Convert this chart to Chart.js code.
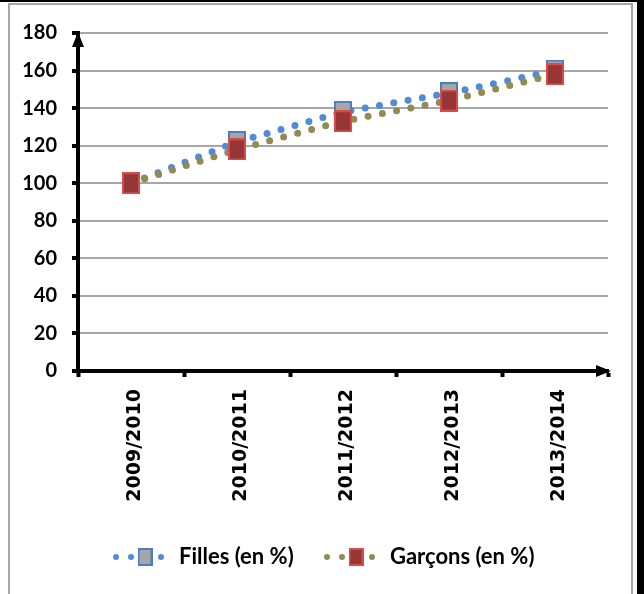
<!DOCTYPE html>
<html>
<head>
<meta charset="utf-8">
<script src="https://cdn.jsdelivr.net/npm/chart.js@4.4.0/dist/chart.umd.min.js"></script>
<style>
  html, body { margin: 0; padding: 0; background: #fff; }
  #wrap { width: 644px; height: 594px; }
</style>
</head>
<body>
<div id="wrap"><canvas id="evolutionChart" width="644" height="594"></canvas></div>
<script>
  // données
  const years = ['2009/2010', '2010/2011', '2011/2012', '2012/2013', '2013/2014'];
  const filles = [100, 122, 138, 148, 160];
  const garcons = [100, 118, 133, 144, 158];
  const yMin = 0, yMax = 180, yStep = 20;

  const BLUE = '#4f8bd8';
  const OLIVE = '#948a54';
  const NARROW = 'Lato, "Liberation Sans", sans-serif';

  // petit rectangle pour les marqueurs (plus haut que large, comme sur l'original)
  function makeMarker(fill, stroke, w, h) {
    const c = document.createElement('canvas');
    c.width = w; c.height = h;
    const g = c.getContext('2d');
    g.fillStyle = stroke;
    g.fillRect(0, 0, w, h);
    g.fillStyle = fill;
    g.fillRect(2, 2, w - 4, h - 4);
    return c;
  }

  const markerFilles = makeMarker('#a6a6a6', '#4a7fc4', 18, 22);
  const markerGarcons = makeMarker('#963636', '#d94b4b', 18, 22);

  const legendItems = [
    { text: 'Filles (en %)', color: BLUE, marker: makeMarker('#a6a6a6', '#4a7fc4', 15, 18), x: 116 },
    { text: 'Garçons (en %)', color: OLIVE, marker: makeMarker('#963636', '#d94b4b', 15, 18), x: 327 }
  ];

  function dot(ctx, x, y, color) {
    ctx.fillStyle = color;
    ctx.beginPath();
    ctx.arc(x, y, 3, 0, Math.PI * 2);
    ctx.fill();
  }

  const decorations = {
    id: 'decorations',
    beforeDraw(chart) {
      const ctx = chart.ctx;
      ctx.save();
      ctx.fillStyle = '#fff';
      ctx.fillRect(0, 0, chart.width, chart.height);
      ctx.restore();
    },
    afterDraw(chart) {
      const ctx = chart.ctx;
      const a = chart.chartArea;
      ctx.save();

      // cadre
      ctx.fillStyle = '#000';
      ctx.fillRect(0, 0, chart.width, 2);
      ctx.fillRect(637, 0, 7, chart.height);
      ctx.strokeStyle = '#a6a6a6';
      ctx.lineWidth = 2;
      ctx.beginPath();
      ctx.moveTo(9, chart.height + 2);
      ctx.lineTo(9, 4);
      ctx.lineTo(632, 4);
      ctx.lineTo(632, chart.height + 2);
      ctx.stroke();

      // flèches des axes
      ctx.fillStyle = '#000';
      ctx.beginPath();
      ctx.moveTo(a.left, a.top - 1);
      ctx.lineTo(a.left - 6, a.top + 14);
      ctx.lineTo(a.left + 6, a.top + 14);
      ctx.closePath();
      ctx.fill();
      ctx.beginPath();
      ctx.moveTo(a.right + 3, a.bottom);
      ctx.lineTo(a.right - 12, a.bottom - 6);
      ctx.lineTo(a.right - 12, a.bottom + 6);
      ctx.closePath();
      ctx.fill();

      // légende
      const ly = 557;
      ctx.font = 'bold 22px ' + NARROW;
      ctx.textBaseline = 'middle';
      ctx.textAlign = 'left';
      legendItems.forEach(item => {
        dot(ctx, item.x, ly, item.color);
        dot(ctx, item.x + 15, ly, item.color);
        dot(ctx, item.x + 45, ly, item.color);
        const m = item.marker;
        ctx.drawImage(m, item.x + 29 - m.width / 2, ly - m.height / 2);
        ctx.fillStyle = '#000';
        ctx.fillText(item.text, item.x + 63, ly);
      });

      ctx.restore();
    }
  };

  const ctx = document.getElementById('evolutionChart').getContext('2d');

  new Chart(ctx, {
    type: 'line',
    data: {
      labels: years,
      datasets: [
        {
          label: 'Filles (en %)',
          data: filles,
          borderColor: BLUE,
          borderWidth: 7,
          borderDash: [0, 14.5],
          borderCapStyle: 'round',
          tension: 0,
          pointStyle: markerFilles,
          pointHoverRadius: 0,
          order: 2
        },
        {
          label: 'Garçons (en %)',
          data: garcons,
          borderColor: OLIVE,
          borderWidth: 7,
          borderDash: [0, 14.5],
          borderCapStyle: 'round',
          tension: 0,
          pointStyle: markerGarcons,
          pointHoverRadius: 0,
          order: 1
        }
      ]
    },
    options: {
      responsive: false,
      animation: false,
      events: [],
      layout: { padding: { top: 33, right: 36, bottom: 0, left: 0 } },
      plugins: {
        legend: { display: false },
        tooltip: { enabled: false }
      },
      scales: {
        x: {
          offset: true,
          afterFit: (scale) => { scale.height = 223; },
          border: { color: '#000', width: 4 },
          grid: {
            display: true,
            drawOnChartArea: false,
            offset: true,
            tickColor: '#000',
            tickLength: 6,
            tickWidth: 4
          },
          ticks: {
            color: '#000',
            minRotation: 90,
            maxRotation: 90,
            padding: 12,
            labelOffset: 4,
            font: { family: '"DejaVu Sans", sans-serif', weight: 'bold', size: 19 }
          }
        },
        y: {
          min: yMin,
          max: yMax,
          afterFit: (scale) => { scale.width = 78; },
          border: { color: '#000', width: 4 },
          grid: {
            color: '#a6a6a6',
            lineWidth: 2,
            tickColor: '#000',
            tickLength: 6,
            tickWidth: 4
          },
          ticks: {
            stepSize: yStep,
            color: '#000',
            padding: 15,
            font: { family: NARROW, weight: 'bold', size: 20 }
          }
        }
      }
    },
    plugins: [decorations]
  });
</script>
</body>
</html>
